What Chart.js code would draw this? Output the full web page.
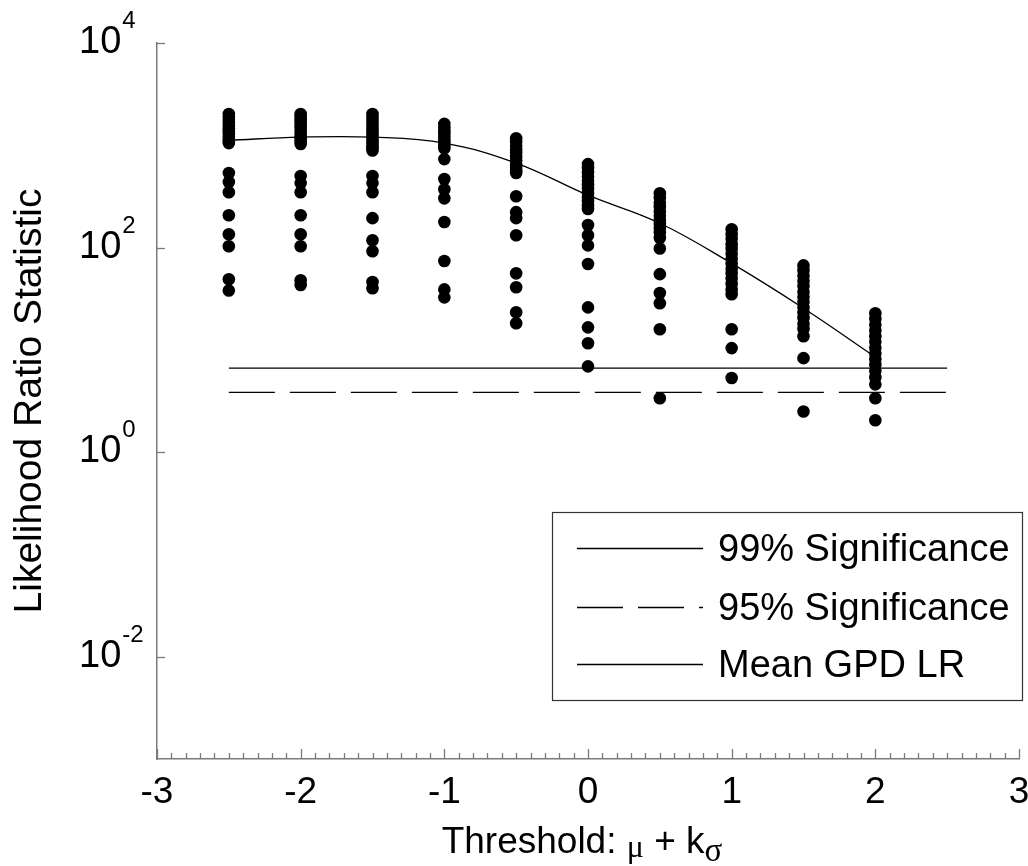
<!DOCTYPE html>
<html>
<head>
<meta charset="utf-8">
<script src="https://cdn.jsdelivr.net/npm/chart.js@4.4.1/dist/chart.umd.min.js"></script>
<style>
  html, body { margin: 0; padding: 0; background: #fff; }
  #wrap { width: 1028px; height: 866px; }
</style>
</head>
<body>
<div id="wrap"><canvas id="grafico" width="1028" height="866"></canvas></div>
<script>
// Thresholds k (threshold = mu + k*sigma)
const thresholds = [-2.5, -2, -1.5, -1, -0.5, 0, 0.5, 1, 1.5, 2];

// Simulated likelihood ratio statistics, one list per threshold
const lrKm25 = [2020, 1900, 1780, 1670, 1560, 1460, 1370, 1290, 1210, 1140, 1090, 1050,
                535, 437, 348, 207, 135, 103, 49, 38];
const lrKm20 = [2020, 1920, 1800, 1690, 1580, 1480, 1390, 1300, 1220, 1150, 1080, 1030,
                500, 427, 348, 207, 135, 103, 48, 43];
const lrKm15 = [2020, 1900, 1780, 1660, 1550, 1450, 1350, 1260, 1180, 1100, 1040, 980, 935, 890,
                500, 427, 348, 194, 118, 92, 46, 40];
const lrKm10 = [1620, 1500, 1400, 1310, 1220, 1140, 1070, 1000, 935,
                733, 468, 372, 303, 178, 74, 39, 32.6];
const lrKm05 = [1170, 1080, 990, 910, 840, 770, 710, 650, 600, 560, 535,
                318, 222, 194, 132, 56, 41, 23.3, 18.2];
const lrK00 = [655, 600, 545, 495, 450, 410, 375, 340, 310, 285, 260, 238,
               166, 132, 105, 69, 26, 16.6, 11.6, 6.9];
const lrK05 = [340, 305, 275, 250, 225, 205, 185, 170, 155, 141,
               124, 98, 55, 36, 28.6, 15.9, 3.36];
const lrK10 = [151, 135, 121, 108, 97, 87, 78, 70, 62, 56, 50, 44, 39, 35,
               15.9, 10.4, 5.3];
const lrK15 = [67, 60, 53, 47, 42, 37, 33, 29.5, 26, 23, 20.5, 18, 16, 13.6,
               8.3, 2.5];
const lrK20 = [22.8, 20, 17.6, 15.5, 13.6, 12, 10.5, 9.2, 8.1, 7.1, 6.2, 5.4, 4.6,
               3.36, 2.05];
const lrColumns = [lrKm25, lrKm20, lrKm15, lrKm10, lrKm05, lrK00, lrK05, lrK10, lrK15, lrK20];

// Mean GPD LR at each threshold
const meanLR = [1120, 1200, 1200, 1050, 670, 325, 173, 70, 25.5, 8.5];

// Chi-square critical values (1 df) and the span of those lines
const crit99 = 6.63;
const crit95 = 3.84;
const sigSpan = [-2.5, 2.5];

// Axis ticks
const yTickExps = [4, 2, 0, -2];

const FONTE = '"Liberation Sans", Arial, Helvetica, sans-serif';
const FONTE_SIMB = '"Liberation Serif", "Times New Roman", serif';
const COR_EIXO = '#7a7a7a';

// Pontos simulados
const pontos = [];
lrColumns.forEach((col, i) => {
    col.forEach(v => pontos.push({ x: thresholds[i], y: v }));
});

const linha99 = sigSpan.map(x => ({ x: x, y: crit99 }));
const linha95 = sigSpan.map(x => ({ x: x, y: crit95 }));
const linhaMedia = thresholds.map((x, i) => ({ x: x, y: meanLR[i] }));

// Plugin: ticks internos, rótulos 10^n, título do eixo x e legenda em caixa
const moldura = {
    id: 'moldura',
    afterDraw(chart) {
        const ctx = chart.ctx;
        const xs = chart.scales.x;
        const ys = chart.scales.y;
        const area = chart.chartArea;

        ctx.save();
        ctx.strokeStyle = COR_EIXO;
        ctx.lineWidth = 1.3;

        // ticks do eixo x (menores a cada 0.1)
        for (let t = -30; t <= 30; t++) {
            const px = Math.round(xs.getPixelForValue(t / 10)) + 0.5;
            const len = (t % 10 === 0) ? 10 : 6;
            ctx.beginPath();
            ctx.moveTo(px, area.bottom);
            ctx.lineTo(px, area.bottom - len);
            ctx.stroke();
        }

        // ticks do eixo y
        yTickExps.forEach(e => {
            const py = Math.round(ys.getPixelForValue(Math.pow(10, e))) + 0.5;
            ctx.beginPath();
            ctx.moveTo(area.left, py);
            ctx.lineTo(area.left + 8, py);
            ctx.stroke();
        });

        // rótulos 10^n
        ctx.fillStyle = '#000';
        ctx.textBaseline = 'alphabetic';
        ctx.textAlign = 'left';
        yTickExps.forEach(e => {
            const py = ys.getPixelForValue(Math.pow(10, e));
            ctx.font = '38px ' + FONTE;
            ctx.fillText('10', 79, py + 10);
            const w = ctx.measureText('10').width;
            ctx.font = '24px ' + FONTE;
            ctx.fillText(String(e), 79 + w + 1, py - 15);
        });

        // título do eixo x: "Threshold: μ + kσ"
        const partes = [
            { t: 'Threshold: ', f: '37px ' + FONTE, dy: 0 },
            { t: '\u03bc', f: '32px ' + FONTE_SIMB, dy: 4 },
            { t: ' + k', f: '37px ' + FONTE, dy: 0 },
            { t: '\u03c3', f: '33px ' + FONTE_SIMB, dy: 8 }
        ];
        let total = 0;
        partes.forEach(p => { ctx.font = p.f; p.w = ctx.measureText(p.t).width; total += p.w; });
        let x0 = (area.left + area.right) / 2 - total / 2 - 6;
        const base = 853;
        partes.forEach(p => {
            ctx.font = p.f;
            ctx.fillText(p.t, x0, base + p.dy);
            x0 += p.w;
        });

        // legenda
        const box = { left: 552, top: 512, right: 1022, bottom: 700 };
        ctx.strokeStyle = '#333';
        ctx.lineWidth = 1.2;
        ctx.strokeRect(box.left + 0.5, box.top + 0.5, box.right - box.left, box.bottom - box.top);

        const itens = chart.data.datasets.filter(d => d.showLine);
        const linhasY = [548, 607, 664];
        itens.forEach((d, i) => {
            const y = linhasY[i] + 0.5;
            ctx.strokeStyle = d.borderColor;
            ctx.lineWidth = d.borderWidth;
            ctx.setLineDash(d.borderDash || []);
            ctx.beginPath();
            ctx.moveTo(577, y);
            ctx.lineTo(703, y);
            ctx.stroke();
            ctx.setLineDash([]);
            ctx.font = '38px ' + FONTE;
            ctx.textBaseline = 'middle';
            ctx.fillStyle = '#000';
            ctx.fillText(d.label, 718, y + 2);
        });
        ctx.restore();
    }
};

new Chart(document.getElementById('grafico'), {
    type: 'scatter',
    data: {
        datasets: [
            {
                label: 'Simulated LR',
                data: pontos,
                backgroundColor: '#000',
                borderColor: '#000',
                pointRadius: 6.3,
                pointBorderWidth: 0,
                showLine: false,
                order: 4
            },
            {
                label: '99% Significance',
                data: linha99,
                showLine: true,
                borderColor: '#000',
                borderWidth: 1.3,
                pointRadius: 0,
                order: 1
            },
            {
                label: '95% Significance',
                data: linha95,
                showLine: true,
                borderColor: '#000',
                borderWidth: 1.3,
                borderDash: [46, 15],
                pointRadius: 0,
                order: 2
            },
            {
                label: 'Mean GPD LR',
                data: linhaMedia,
                showLine: true,
                borderColor: '#000',
                borderWidth: 1.3,
                tension: 0.4,
                pointRadius: 0,
                order: 3
            }
        ]
    },
    options: {
        responsive: false,
        animation: false,
        layout: { padding: { top: 43, right: 9, left: 0, bottom: 0 } },
        plugins: {
            legend: { display: false },
            tooltip: { enabled: false }
        },
        scales: {
            x: {
                type: 'linear',
                min: -3,
                max: 3,
                grid: { display: false, drawTicks: false },
                border: { display: true, color: COR_EIXO, width: 1.5 },
                ticks: {
                    stepSize: 1,
                    color: '#000',
                    padding: 12,
                    font: { family: FONTE, size: 37 }
                },
                afterFit(scale) {
                    scale.height = 107;
                    scale.paddingLeft = 0;
                    scale.paddingRight = 0;
                }
            },
            y: {
                type: 'logarithmic',
                min: 0.001,
                max: 10000,
                grid: { display: false, drawTicks: false },
                border: { display: true, color: COR_EIXO, width: 1.5 },
                ticks: { display: false },
                title: {
                    display: true,
                    text: 'Likelihood Ratio Statistic',
                    color: '#000',
                    font: { family: FONTE, size: 39 },
                    padding: { top: 7, bottom: 0 }
                },
                afterFit(scale) { scale.width = 157; }
            }
        }
    },
    plugins: [moldura]
});
</script>
</body>
</html>
